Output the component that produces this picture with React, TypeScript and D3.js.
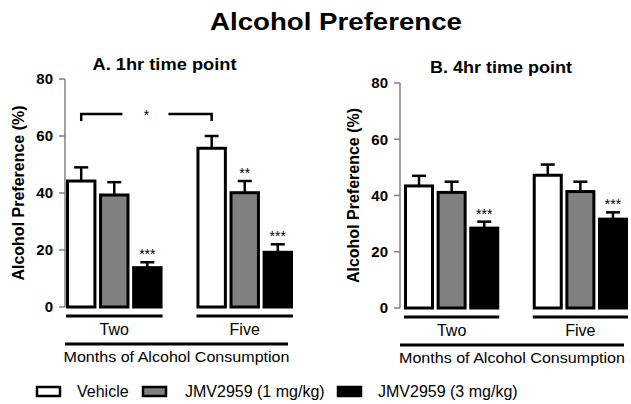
import * as d3 from 'd3'
import React from 'react'

const groups = ['Two', 'Five']
const series = ['Vehicle', 'JMV2959 (1 mg/kg)', 'JMV2959 (3 mg/kg)']
const seriesFill = ['#ffffff', '#808080', '#000000']
const yTicks = [0, 20, 40, 60, 80]

// panel A: 1hr
const meanA = [
  [44.2, 39.3, 13.8],
  [55.7, 40.1, 19.2],
]
const semA = [
  [4.8, 4.5, 1.9],
  [4.3, 4.1, 2.8],
]
const starsA = [
  ['', '', '***'],
  ['', '**', '***'],
]

// panel B: 4hr
const meanB = [
  [43.4, 41.1, 28.4],
  [47.2, 41.4, 31.6],
]
const semB = [
  [3.6, 3.8, 2.3],
  [3.8, 3.5, 2.4],
]
const starsB = [
  ['', '', '***'],
  ['', '', '***'],
]

const font = '"Liberation Sans", Arial, Helvetica, sans-serif'

interface PanelProps {
  title: string
  titleX: number
  titleY: number
  titleLen: number
  axisX: number
  xRange: [number, number]
  yRange: [number, number]
  means: number[][]
  sems: number[][]
  stars: string[][]
  yLabelX: number
  bottomLine: [number, number]
  bracket?: number
}

const Panel = ({ title, titleX, titleY, titleLen, axisX, xRange, yRange, means, sems, stars, yLabelX, bottomLine, bracket }: PanelProps) => {
  const y = d3.scaleLinear().domain([0, 80]).range(yRange)
  const x0 = d3.scaleBand().domain(groups).range(xRange).paddingInner(0.26).paddingOuter(0)
  const x1 = d3.scaleBand().domain(series).range([0, x0.bandwidth()]).paddingInner(0.08).paddingOuter(0)
  const bw = x1.bandwidth()
  const capHalf = 7
  const yMid = (yRange[0] + yRange[1]) / 2
  return (
    <g>
      <text
        x={titleX - titleLen / 2}
        y={titleY}
        textLength={titleLen}
        lengthAdjust="spacingAndGlyphs"
        fontSize={16}
        fontWeight="bold"
        fontFamily={font}
      >
        {title}
      </text>
      <text
        transform={`translate(${yLabelX},${yMid}) rotate(-90)`}
        textAnchor="middle"
        fontSize={16}
        fontWeight="bold"
        fontFamily={font}
      >
        Alcohol Preference (%)
      </text>
      {/* y axis */}
      <line x1={axisX} x2={axisX} y1={y(0)} y2={y(80)} stroke="#808080" strokeWidth={1.5} />
      {yTicks.map((t) => (
        <g key={t}>
          <line x1={axisX - 6} x2={axisX} y1={y(t)} y2={y(t)} stroke="#808080" strokeWidth={1.5} />
          <text x={axisX - 12} y={y(t)} dy="0.35em" textAnchor="end" fontSize={15} fontWeight="bold" fontFamily={font}>
            {t}
          </text>
        </g>
      ))}
      {groups.map((g, gi) => (
        <g key={g} transform={`translate(${x0(g)},0)`}>
          {series.map((s, si) => {
            const v = means[gi][si]
            const top = y(v + sems[gi][si])
            const cx = (x1(s) as number) + bw / 2
            return (
              <g key={s}>
                <line x1={cx} x2={cx} y1={y(v)} y2={top} stroke="#000" strokeWidth={2.5} />
                <line x1={cx - capHalf} x2={cx + capHalf} y1={top} y2={top} stroke="#000" strokeWidth={2.5} />
                <rect
                  x={(x1(s) as number) + 1.5}
                  y={y(v)}
                  width={bw - 3}
                  height={y(0) - y(v)}
                  fill={seriesFill[si]}
                  stroke="#000"
                  strokeWidth={3}
                />
                {stars[gi][si] && (
                  <text x={cx} y={top - 3} textAnchor="middle" fontSize={14} fontFamily={font}>
                    {stars[gi][si]}
                  </text>
                )}
              </g>
            )
          })}
          <line x1={0} x2={x0.bandwidth()} y1={y(0) + 9} y2={y(0) + 9} stroke="#000" strokeWidth={3} />
          <text x={x0.bandwidth() / 2} y={y(0) + 28} textAnchor="middle" fontSize={16} fontFamily={font}>
            {g}
          </text>
        </g>
      ))}
      <line x1={bottomLine[0]} x2={bottomLine[1]} y1={y(0) + 37} y2={y(0) + 37} stroke="#000" strokeWidth={3} />
      <text
        x={(bottomLine[0] + bottomLine[1]) / 2 - 113}
        y={y(0) + 55}
        textLength={226}
        lengthAdjust="spacingAndGlyphs"
        fontSize={15.5}
        fontFamily={font}
      >
        Months of Alcohol Consumption
      </text>
      {bracket !== undefined && (() => {
        const xa = (x0('Two') as number) + (x1(series[0]) as number) + bw / 2
        const xb = (x0('Five') as number) + (x1(series[0]) as number) + bw / 2
        const by = y(bracket)
        const mid = (xa + xb) / 2
        return (
          <g stroke="#000" strokeWidth={2.5} fill="none">
            <path d={`M${xa},${by + 7}V${by}H${mid - 24}`} />
            <path d={`M${mid + 22},${by}H${xb}V${by + 7}`} />
            <text x={mid} y={by + 6} textAnchor="middle" fontSize={14} fontFamily={font} stroke="none" fill="#000">
              *
            </text>
          </g>
        )
      })()}
    </g>
  )
}

const legendX = [37, 143, 338]
const legendTextX = [77, 185, 378]

const App = () => {
  return (
    <svg width={631} height={404} style={{ position: 'absolute', left: 0, top: 0, background: '#fff' }}>
      <text
        x={210}
        y={30}
        textLength={252}
        lengthAdjust="spacingAndGlyphs"
        fontSize={23.5}
        fontWeight="bold"
        fontFamily={font}
      >
        Alcohol Preference
      </text>
      <Panel
        title="A. 1hr time point"
        titleX={164.5}
        titleY={70}
        titleLen={144}
        axisX={65}
        xRange={[66, 293]}
        yRange={[307, 79]}
        means={meanA}
        sems={semA}
        stars={starsA}
        yLabelX={24}
        bottomLine={[65, 288]}
        bracket={67.7}
      />
      <Panel
        title="B. 4hr time point"
        titleX={501}
        titleY={73}
        titleLen={142}
        axisX={400}
        xRange={[404, 628]}
        yRange={[308, 83]}
        means={meanB}
        sems={semB}
        stars={starsB}
        yLabelX={359}
        bottomLine={[400, 624]}
      />
      {series.map((s, i) => (
        <g key={s}>
          <rect x={legendX[i]} y={387} width={23} height={9} fill={seriesFill[i]} stroke="#000" strokeWidth={2.5} />
          <text x={legendTextX[i]} y={391.5} dy="0.35em" fontSize={16} fontFamily={font}>
            {s}
          </text>
        </g>
      ))}
    </svg>
  )
}

export default App
